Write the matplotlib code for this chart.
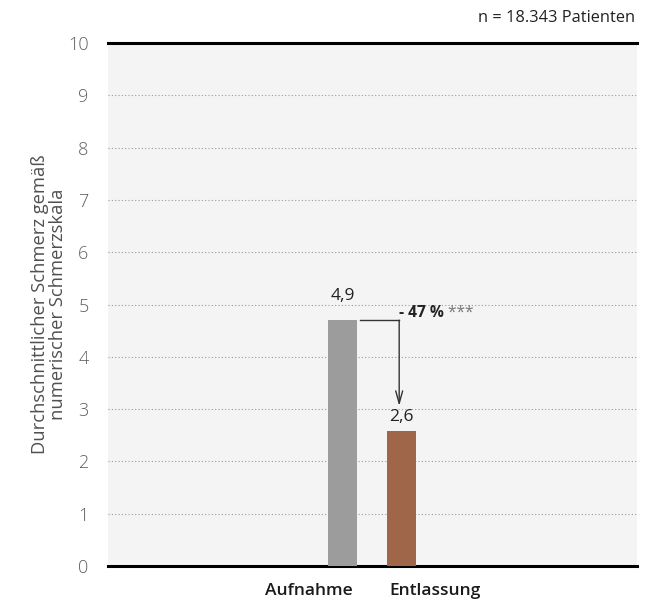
import matplotlib
matplotlib.use("Agg")
import matplotlib.pyplot as plt

plt.rcParams['font.family'] = ['Open Sans', 'DejaVu Sans']

categories = ["Aufnahme", "Entlassung"]
bar_values = [4.7, 2.58]
value_labels = ["4,9", "2,6"]
bar_colors = ["#9c9c9c", "#a0664a"]
yticks = list(range(0, 11))
change_label = "- 47 %"
signif_label = "***"
n_label = "n = 18.343 Patienten"
ylabel = "Durchschnittlicher Schmerz gemäß\nnumerischer Schmerzskala"

fig = plt.figure(figsize=(6.69, 6.01), dpi=100)
ax = fig.add_axes([108/669, 1-566/601, (637-108)/669, (566-43)/601])
ax.set_facecolor("#f3f4f3")

x = [0, 1]
ax.bar(x, bar_values, width=0.5, color=bar_colors, zorder=3)
ax.set_xlim(-4.01, 5.03)
ax.set_ylim(0, 10)

for yv in yticks[1:-1]:
    ax.axhline(yv, color="#9a9a9a", lw=0.8, ls=(0, (1, 2)), zorder=1)

for s in ["left", "right"]:
    ax.spines[s].set_visible(False)
ax.spines["top"].set_linewidth(2.2)
ax.spines["bottom"].set_linewidth(2.2)
ax.spines["top"].set_color("black")
ax.spines["bottom"].set_color("black")

ax.set_yticks(yticks)
ax.set_yticklabels([str(t) for t in yticks], fontsize=13, color="#606060", fontweight="light")
ax.tick_params(axis="y", length=0, pad=14)
ax.set_xticks([-0.57, 1.58])
ax.set_xticklabels(categories, fontsize=12.5, fontweight="semibold", color="#1a1a1a")
ax.tick_params(axis="x", length=0, pad=12)

ax.set_ylabel(ylabel, fontsize=13.2, color="#505050", linespacing=1.05)
ax.yaxis.set_label_coords(-0.077, 0.5)

# value labels
ax.text(x[0], bar_values[0] + 0.47, value_labels[0], ha="center", va="center", fontsize=12.5, color="#222222")
ax.text(x[1], bar_values[1] + 0.27, value_labels[1], ha="center", va="center", fontsize=12.5, color="#222222")

# change arrow
ax.plot([0.30, 0.966], [bar_values[0], bar_values[0]], color="#333333", lw=1, zorder=4)
ax.annotate("", xy=(0.966, 3.06), xytext=(0.966, bar_values[0]),
            arrowprops=dict(arrowstyle="->,head_length=0.9,head_width=0.25", color="#333333", lw=1,
                            shrinkA=0, shrinkB=0), zorder=4)
t = ax.text(0.96, 4.84, change_label, ha="left", va="center", fontsize=11.2, fontweight="bold", color="#222222")
ax.annotate(" " + signif_label, xycoords=t, xy=(1, 0.5), ha="left", va="center",
            fontsize=11.2, color="#777777")

fig.text(635/669, 1-18/601, n_label, ha="right", va="center", fontsize=11.8, color="#222222")

fig.savefig("out.png", dpi=100)
